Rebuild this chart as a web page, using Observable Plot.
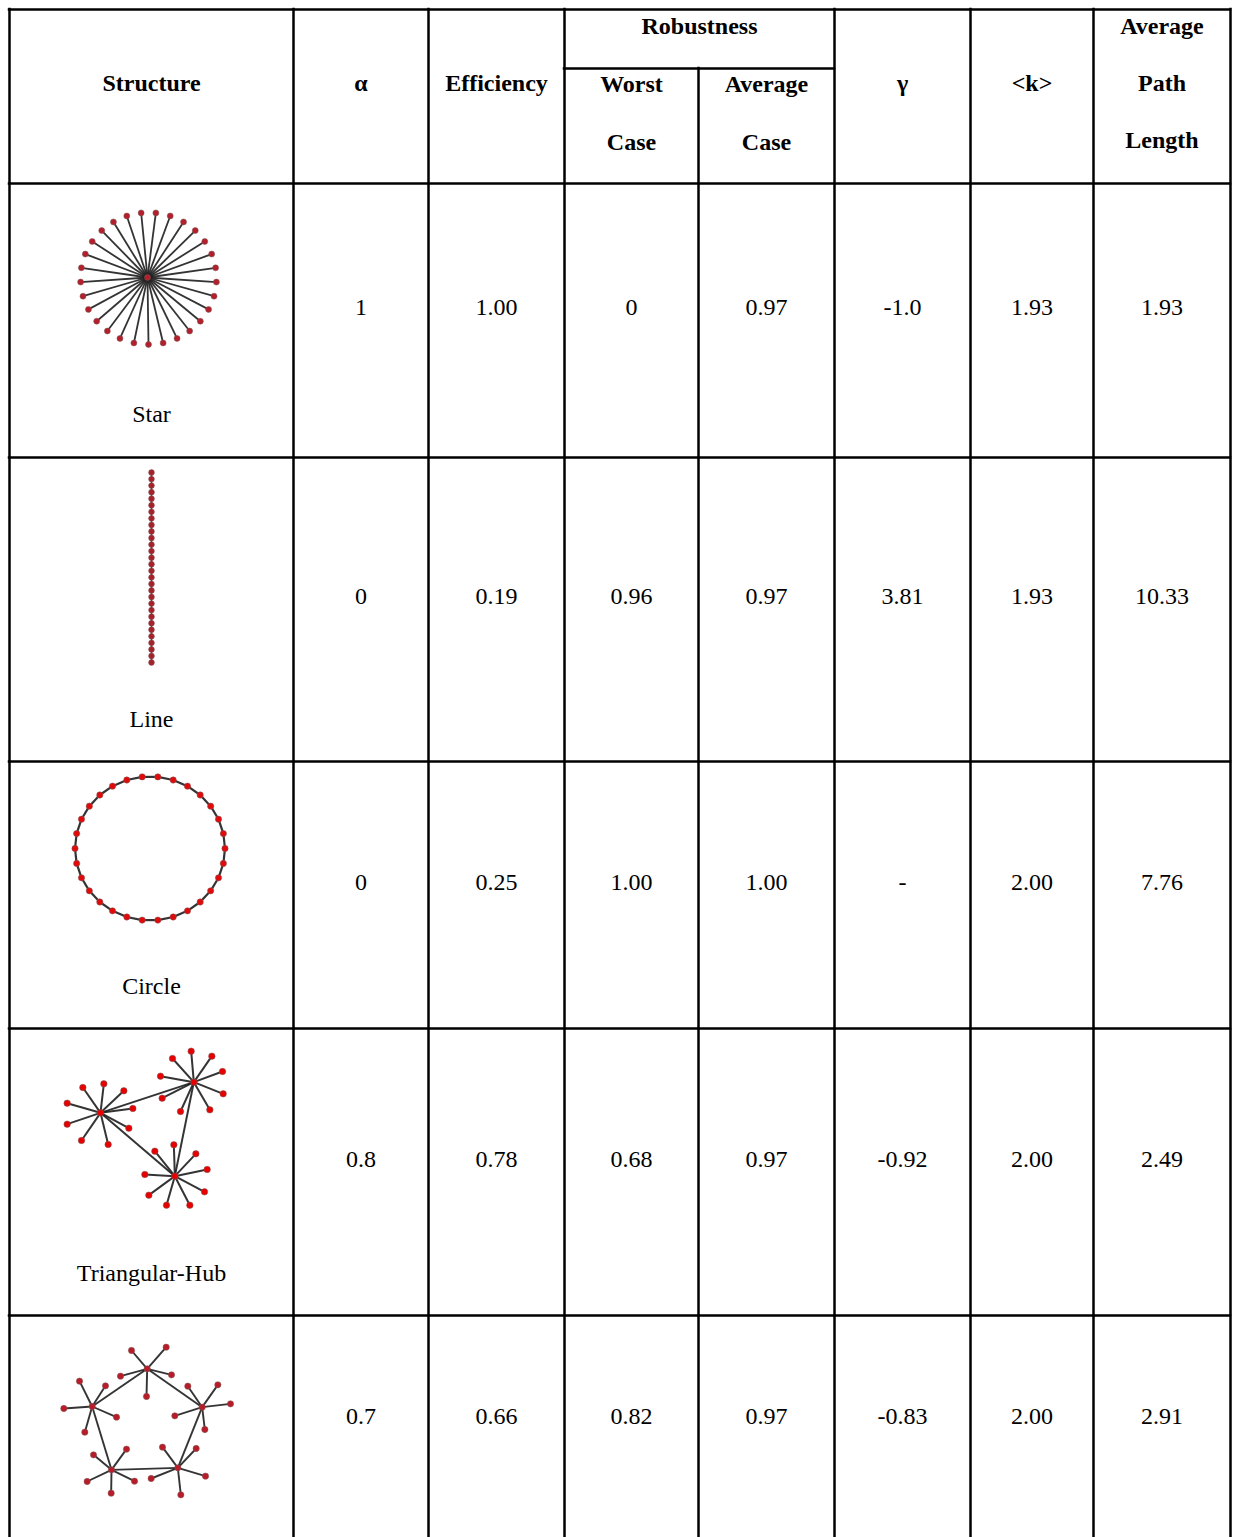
<!DOCTYPE html>
<html>
<head>
<meta charset="utf-8">
<script src="https://cdn.jsdelivr.net/npm/d3@7"></script>
<script src="https://cdn.jsdelivr.net/npm/@observablehq/plot@0.6"></script>
<style>
  html, body { margin: 0; padding: 0; background: #fff; }
  #chart svg { display: block; background: #fff; }
</style>
</head>
<body>
<div id="chart"></div>
<script>
// ---------- data ----------
const structures  = ["Star", "Line", "Circle", "Triangular-Hub", ""];
const alpha       = ["1", "0", "0", "0.8", "0.7"];
const efficiency  = ["1.00", "0.19", "0.25", "0.78", "0.66"];
const worstCase   = ["0", "0.96", "1.00", "0.68", "0.82"];
const averageCase = ["0.97", "0.97", "1.00", "0.97", "0.97"];
const gamma       = ["-1.0", "3.81", "-", "-0.92", "-0.83"];
const meanDegree  = ["1.93", "1.93", "2.00", "2.00", "2.00"];
const pathLength  = ["1.93", "10.33", "7.76", "2.49", "2.91"];

const nodeCount = 30; // nodes in every network

// Triangular-hub layout (graph layout units)
const triHubs = [[150, 247], [430, 155], [373, 437]];
const triHubEdges = [[0, 1], [1, 2], [0, 2]];
const triLeaves = [
  [0, 97, 171], [0, 160, 160], [0, 220, 181], [0, 50, 218], [0, 247, 234],
  [0, 50, 281], [0, 235, 293], [0, 93, 330], [0, 173, 342],
  [1, 366, 84], [1, 422, 62], [1, 484, 77], [1, 516, 123], [1, 330, 137],
  [1, 518, 190], [1, 335, 203], [1, 390, 243], [1, 478, 238],
  [2, 313, 362], [2, 370, 343], [2, 436, 370], [2, 470, 417], [2, 283, 432],
  [2, 462, 484], [2, 295, 494], [2, 348, 524], [2, 418, 524]
];

// Pentagonal-hub layout (graph layout units)
const pentHubs = [[290, 115], [455, 230], [382, 412], [183, 418], [125, 228]];
const pentHubEdges = [[0, 1], [1, 2], [2, 3], [3, 4], [4, 0]];
const pentLeaves = [
  [0, 243, 60], [0, 347, 50], [0, 210, 137], [0, 363, 133], [0, 288, 198],
  [1, 412, 167], [1, 502, 163], [1, 540, 220], [1, 373, 256], [1, 463, 297],
  [2, 336, 350], [2, 437, 354], [2, 302, 444], [2, 465, 437], [2, 391, 493],
  [3, 129, 373], [3, 228, 356], [3, 110, 453], [3, 252, 452], [3, 182, 488],
  [4, 87, 152], [4, 165, 166], [4, 40, 234], [4, 198, 260], [4, 103, 305]
];

// header labels
const headerMain = ["Structure", "α", "Efficiency", "γ", "<k>"];
const robustnessLabel = "Robustness";
const subHeaders = [["Worst", "Case"], ["Average", "Case"]];
const pathHeader = ["Average", "Path", "Length"];

// ---------- layout (positions / sizes) ----------
const W = 1233, H = 1537;
const colEdges = [9, 293, 428, 564, 698, 834, 970, 1093, 1230];
const topY = 9, subSplit = 68;
const rowEdges = [183, 457, 761, 1028, 1315];
const valueY = [307, 596, 882, 1159, 1416];
const labelY = [414, 719, 986, 1273, null];
const colCenter = i => (colEdges[i] + colEdges[i + 1]) / 2;
const serif = "'Liberation Serif', 'Times New Roman', Times, serif";
const ink = "#000";

// ---------- table texts ----------
const cols = [alpha, efficiency, worstCase, averageCase, gamma, meanDegree, pathLength];
const cellTexts = [];
cols.forEach((arr, c) => arr.forEach((v, r) => cellTexts.push({x: colCenter(c + 1), y: valueY[r], t: v})));
structures.forEach((s, r) => { if (s && labelY[r] != null) cellTexts.push({x: colCenter(0), y: labelY[r], t: s}); });

const headTexts = [
  {x: colCenter(0), y: 83, t: headerMain[0]},
  {x: colCenter(1), y: 83, t: headerMain[1]},
  {x: colCenter(2), y: 83, t: headerMain[2]},
  {x: (colEdges[3] + colEdges[5]) / 2, y: 26, t: robustnessLabel},
  {x: colCenter(3), y: 84, t: subHeaders[0][0]},
  {x: colCenter(3), y: 142, t: subHeaders[0][1]},
  {x: colCenter(4), y: 84, t: subHeaders[1][0]},
  {x: colCenter(4), y: 142, t: subHeaders[1][1]},
  {x: colCenter(5), y: 83, t: headerMain[3]},
  {x: colCenter(6), y: 83, t: headerMain[4]},
  {x: colCenter(7), y: 26, t: pathHeader[0]},
  {x: colCenter(7), y: 83, t: pathHeader[1]},
  {x: colCenter(7), y: 140, t: pathHeader[2]}
];

// ---------- grid lines ----------
const vLines = colEdges.map((x, i) => ({x, y1: i === 4 ? subSplit : topY, y2: H}));
const hLines = [{y: topY, x1: colEdges[0], x2: colEdges[8]},
                {y: subSplit, x1: colEdges[3], x2: colEdges[5]},
                ...rowEdges.map(y => ({y, x1: colEdges[0], x2: colEdges[8]}))];

// ---------- networks ----------
const edges = [], nodes = [];
// Star
{
  const cx = 148, cy = 278, rx = 68, ry = 66, c = {x: 147, y: 277};
  const n = nodeCount - 1;
  for (let i = 0; i < n; i++) {
    const a = (-90 - 180 / n + 360 * i / n) * Math.PI / 180;
    const p = {x: cx + rx * Math.cos(a), y: cy + ry * Math.sin(a)};
    edges.push({x1: c.x, y1: c.y, x2: p.x, y2: p.y, g: "star"});
    nodes.push({...p, g: "star"});
  }
  nodes.push({...c, g: "star"});
}
// Line
{
  const x = 151, y0 = 472, y1 = 662;
  const pts = d3.range(nodeCount).map(i => ({x, y: y0 + (y1 - y0) * i / (nodeCount - 1), g: "line"}));
  pts.slice(1).forEach((p, i) => edges.push({x1: pts[i].x, y1: pts[i].y, x2: p.x, y2: p.y, g: "line"}));
  nodes.push(...pts);
}
// Circle
{
  const cx = 149.5, cy = 848, rx = 75, ry = 72;
  const pts = d3.range(nodeCount).map(i => {
    const a = (-90 - 180 / nodeCount + 360 * i / nodeCount) * Math.PI / 180;
    return {x: cx + rx * Math.cos(a), y: cy + ry * Math.sin(a), g: "circle"};
  });
  pts.forEach((p, i) => { const q = pts[(i + 1) % nodeCount]; edges.push({x1: p.x, y1: p.y, x2: q.x, y2: q.y, g: "circle"}); });
  nodes.push(...pts);
}
// hub networks
function hubNet(hubs, hubEdges, leaves, ox, oy, s, g) {
  const P = ([x, y]) => ({x: ox + x * s, y: oy + y * s});
  const HP = hubs.map(P);
  hubEdges.forEach(([a, b]) => edges.push({x1: HP[a].x, y1: HP[a].y, x2: HP[b].x, y2: HP[b].y, g}));
  leaves.forEach(([h, x, y]) => {
    const p = P([x, y]);
    edges.push({x1: HP[h].x, y1: HP[h].y, x2: p.x, y2: p.y, g});
    nodes.push({...p, g});
  });
  HP.forEach(p => nodes.push({...p, g}));
}
hubNet(triHubs, triHubEdges, triLeaves, 50, 1030, 1 / 3, "tri");
hubNet(pentHubs, pentHubEdges, pentLeaves, 50, 1330, 1 / 3, "pent");

const nodeFill = {star: "#b3202c", line: "#a8202a", circle: "#e00a0a", tri: "#e60000", pent: "#b81c28"};
const nodeR = {star: 2.9, line: 2.7, circle: 3.2, tri: 3.4, pent: 3.2};
const edgeW = {star: 1.8, line: 1.5, circle: 2.2, tri: 2.0, pent: 1.9};

const chart = Plot.plot({
  width: W, height: H,
  margin: 0,
  x: {domain: [0, W], range: [0, W], axis: null},
  y: {domain: [0, H], range: [0, H], axis: null},
  style: {background: "#fff"},
  marks: [
    Plot.link(edges, {x1: "x1", y1: "y1", x2: "x2", y2: "y2", stroke: "#1e1e1e", strokeWidth: d => edgeW[d.g], strokeOpacity: 0.9}),
    Plot.dot(nodes, {x: "x", y: "y", r: d => nodeR[d.g], fill: d => nodeFill[d.g], stroke: "#7a5a5a", strokeWidth: 0.5}),
    Plot.ruleX(vLines, {x: "x", y1: "y1", y2: "y2", stroke: ink, strokeWidth: 2.5, strokeLinecap: "square"}),
    Plot.ruleY(hLines, {y: "y", x1: "x1", x2: "x2", stroke: ink, strokeWidth: 2.5, strokeLinecap: "square"}),
    Plot.text(headTexts, {x: "x", y: "y", text: "t", fontFamily: serif, fontSize: 24, fontWeight: "bold", fill: ink}),
    Plot.text(cellTexts, {x: "x", y: "y", text: "t", fontFamily: serif, fontSize: 24, fill: ink})
  ]
});
document.getElementById("chart").appendChild(chart);
</script>
</body>
</html>
